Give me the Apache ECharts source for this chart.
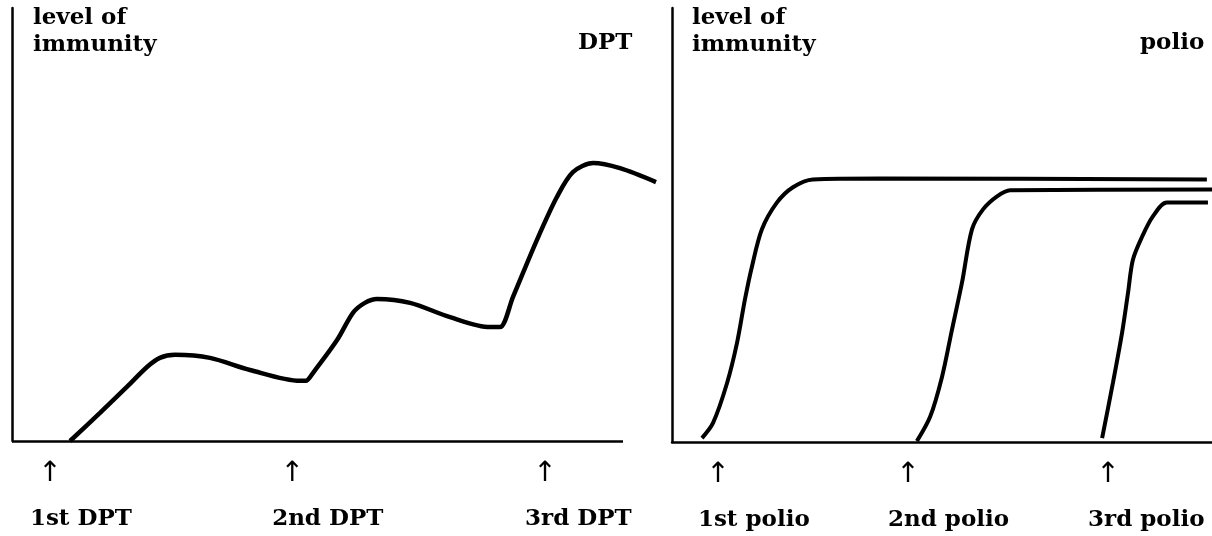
<!DOCTYPE html>
<html>
<head>
<meta charset="utf-8">
<title>level of immunity: DPT and polio</title>
<script src="https://cdn.jsdelivr.net/npm/echarts@6/dist/echarts.min.js"></script>
<style>
  html, body { margin: 0; padding: 0; background: #fff; }
  #chart { width: 1212px; height: 536px; }
</style>
</head>
<body>
<div id="chart"></div>
<script>
// Time in weeks, immunity level on a 0-100 scale.

// DPT: immunity rises after each dose, then wanes slowly until the next one.
const dptWeeks = [1.90, 2.88, 3.76, 4.42, 4.84, 5.34, 6.48, 7.79, 9.43, 9.62, 9.85, 10.64, 11.16, 11.55, 11.95, 13.03, 14.34, 15.65, 15.97, 16.40, 17.18, 17.84, 18.36, 19.02, 19.90, 21.08];
const dptLevel = [0, 6.5, 12.5, 17.1, 19.2, 19.9, 19.2, 16.4, 13.9, 13.9, 15.7, 23.3, 29.6, 31.9, 32.8, 31.9, 28.6, 26.3, 26.3, 33.3, 46.4, 56.4, 62.1, 64.2, 63.0, 59.8];
const dptDoseWeeks = [1.24, 9.17, 17.45];
const dptDoseNames = ['1st DPT', '2nd DPT', '3rd DPT'];
// the DPT time line is drawn up to week 20; the curve runs on a little past it
const dptTimeline = [0, 20];
const dptWeeksShown = 21.08;

// Polio: each dose gives an S-shaped rise that then holds level.
const polio1Weeks = [1.11, 1.52, 2.04, 2.41, 2.70, 2.96, 3.33, 3.89, 4.48, 5.22, 7.70, 19.81];
const polio1Level = [0.9, 4.4, 13.6, 22.9, 32.8, 40.4, 49.0, 55.2, 58.7, 60.5, 60.7, 60.5];
const polio2Weeks = [9.07, 9.56, 10.00, 10.37, 10.74, 11.11, 11.52, 12.04, 12.52, 20.0];
const polio2Level = [0.2, 5.8, 15.0, 25.9, 36.7, 49.0, 53.6, 56.6, 58.0, 58.2];
const polio3Weeks = [15.93, 16.33, 16.67, 16.89, 17.07, 17.41, 17.81, 18.33, 19.85];
const polio3Level = [0.9, 13.6, 25.2, 34.4, 42.0, 47.3, 52.0, 55.2, 55.2];
const polioDoseWeeks = [1.70, 8.74, 16.15];
const polioDoseNames = ['1st polio', '2nd polio', '3rd polio'];
const polioWeeksShown = 20;

const panelTitles = ['DPT', 'polio'];
const yAxisTitle = 'level of\nimmunity';

const FONT = 'DejaVu Serif';
const INK = '#000';

const pairs = (xs, ys) => xs.map((x, i) => [x, ys[i]]);

const textStyle = {
  fontFamily: FONT, fontSize: 23, fontWeight: 'bold', color: INK, lineHeight: 27
};

const axisStroke = { color: INK, width: 2.5 };

function axisPair(gridIndex, maxWeeks, showXLine) {
  return {
    x: {
      gridIndex, type: 'value', min: 0, max: maxWeeks,
      axisLine: { show: showXLine, lineStyle: axisStroke },
      axisTick: { show: false }, axisLabel: { show: false }, splitLine: { show: false }
    },
    y: {
      gridIndex, type: 'value', min: 0, max: 100,
      axisLine: { show: true, lineStyle: axisStroke },
      axisTick: { show: false }, axisLabel: { show: false }, splitLine: { show: false }
    }
  };
}

function curve(name, data, idx, width) {
  return {
    name, type: 'line', xAxisIndex: idx, yAxisIndex: idx,
    data, smooth: 0.3, symbol: 'none', clip: false,
    lineStyle: { color: INK, width: width }, z: 3
  };
}

const hiddenDot = { color: 'rgba(0,0,0,0)', opacity: 1 };

function doseMarks(weeks, names, idx) {
  return [
    {
      type: 'scatter', xAxisIndex: idx, yAxisIndex: idx, symbolSize: 1,
      itemStyle: hiddenDot, clip: false, silent: true,
      data: weeks.map(w => [w, 0]),
      label: {
        show: true, position: 'inside', offset: [0, 33],
        formatter: '↑', fontFamily: 'DejaVu Sans', fontSize: 28, color: INK
      }
    },
    {
      type: 'scatter', xAxisIndex: idx, yAxisIndex: idx, symbolSize: 1,
      itemStyle: hiddenDot, clip: false, silent: true,
      data: weeks.map((w, i) => ({ value: [w, 0], name: names[i] })),
      label: Object.assign({
        show: true, position: 'inside', align: 'left', offset: [-20, 78],
        formatter: p => p.name
      }, textStyle)
    }
  ];
}

const left = axisPair(0, dptWeeksShown, false);
const right = axisPair(1, polioWeeksShown, true);

const dptSeries = curve('DPT', pairs(dptWeeks, dptLevel), 0, 4.5);
dptSeries.markLine = {
  silent: true, symbol: 'none', animation: false,
  label: { show: false },
  lineStyle: { color: INK, width: 2.5, type: 'solid' },
  data: [[{ coord: [dptTimeline[0], 0] }, { coord: [dptTimeline[1], 0] }]]
};

const option = {
  backgroundColor: '#fff',
  animation: false,
  title: [
    { text: yAxisTitle, left: 33, top: 5, padding: 0, textStyle },
    { text: panelTitles[0], left: 578, top: 30, padding: 0, textStyle },
    { text: yAxisTitle, left: 692, top: 5, padding: 0, textStyle },
    { text: panelTitles[1], left: 1140, top: 30, padding: 0, textStyle }
  ],
  grid: [
    { left: 12, top: 8, width: 644, bottom: 95 },
    { left: 672, top: 8, right: 0, bottom: 94 }
  ],
  xAxis: [left.x, right.x],
  yAxis: [left.y, right.y],
  series: [
    dptSeries,
    curve('polio 1', pairs(polio1Weeks, polio1Level), 1, 4),
    curve('polio 2', pairs(polio2Weeks, polio2Level), 1, 4),
    curve('polio 3', pairs(polio3Weeks, polio3Level), 1, 4),
    ...doseMarks(dptDoseWeeks, dptDoseNames, 0),
    ...doseMarks(polioDoseWeeks, polioDoseNames, 1)
  ]
};

echarts.init(document.getElementById('chart'), null, { renderer: 'canvas' }).setOption(option);
</script>
</body>
</html>
